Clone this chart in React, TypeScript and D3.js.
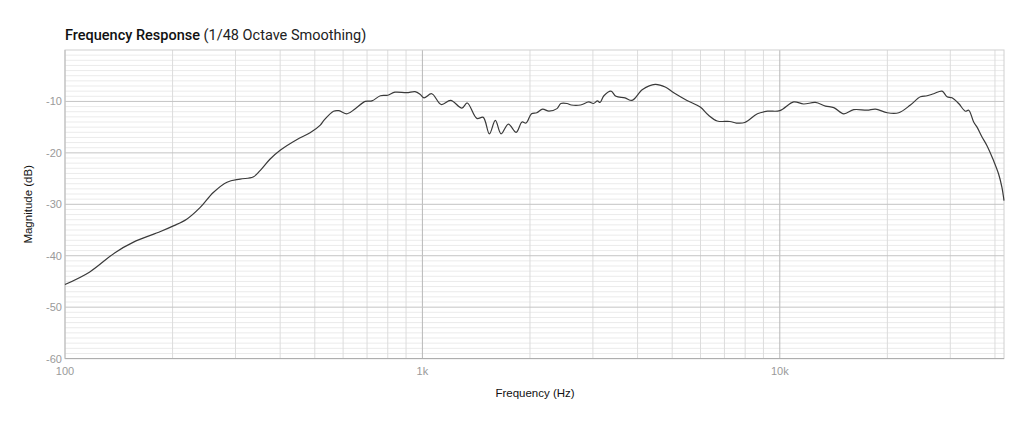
import React, { useEffect, useRef } from "react";
import * as d3 from "d3";

// frequency (Hz) and magnitude (dB)
const freqs = [
  100, 117, 138, 155, 185, 201, 219, 239, 260, 284, 309, 336, 352, 375, 400, 446, 485, 518,
  530, 564, 584, 616, 649, 692, 722, 763, 800, 838, 904, 954, 985, 1010, 1062, 1129, 1200,
  1290, 1335, 1420, 1480, 1540, 1600, 1660, 1740, 1830, 1900, 1950, 2020, 2090, 2170, 2260,
  2380, 2440, 2540, 2610, 2770, 2920, 3010, 3090, 3140, 3220, 3370, 3480, 3690, 3860, 4130,
  4480, 4780, 5050, 5500, 5990, 6320, 6680, 7250, 7560, 7980, 8660, 9240, 10000, 10940,
  11660, 12580, 13420, 14160, 15100, 16100, 17560, 18530, 19980, 21520, 23200, 24740, 25830,
  26960, 28450, 29380, 30330, 31660, 33060, 33770, 34870, 35640, 36800, 38000, 39640, 40950,
  41840, 42400,
];
const magnitudes = [
  -45.6, -43.2, -39.4, -37.4, -35.3, -34.2, -32.9, -30.6, -27.7, -25.7, -25.1, -24.7, -23.4,
  -21.2, -19.5, -17.4, -16.1, -14.6, -13.7, -11.9, -11.8, -12.4, -11.4, -10.0, -9.9, -8.9,
  -8.8, -8.2, -8.3, -8.1, -8.6, -9.3, -8.5, -10.6, -9.8, -11.3, -10.3, -13.3, -13.1, -16.3,
  -13.7, -16.3, -14.4, -16.0, -14.0, -14.2, -12.4, -12.2, -11.5, -11.9, -11.4, -10.4, -10.4,
  -10.7, -10.7, -10.1, -10.4, -9.9, -10.2, -8.9, -8.0, -9.0, -9.3, -9.8, -7.7, -6.7, -7.2,
  -8.3, -9.8, -11.1, -12.7, -13.8, -13.9, -14.2, -14.1, -12.4, -11.9, -11.8, -10.1, -10.5,
  -10.2, -10.9, -11.2, -12.4, -11.6, -11.7, -11.5, -12.2, -12.2, -10.7, -9.1, -8.9, -8.5,
  -8.0, -9.1, -9.3, -10.4, -11.9, -11.7, -14.0, -15.0, -16.9, -18.6, -21.5, -24.1, -26.7,
  -29.3,
];
const yTicks = [-10, -20, -30, -40, -50, -60];
const xTicks = [100, 1000, 10000];
const xTickLabels = ["100", "1k", "10k"];

const W = 1024;
const H = 427;
const margin = { top: 50, right: 20, bottom: 69, left: 65 };

export default function App() {
  const ref = useRef<SVGSVGElement>(null);

  useEffect(() => {
    const svg = d3.select(ref.current);
    svg.selectAll("*").remove();
    const font = "'Helvetica Neue', Helvetica, 'Liberation Sans', Arial, sans-serif";

    const x = d3.scaleLog().domain([100, 42400]).range([margin.left, W - margin.right]);
    const y = d3.scaleLinear().domain([-60, 0]).range([H - margin.bottom + 0.6, margin.top]);

    const g = svg.append("g");

    // minor horizontal grid, every 1 dB
    const minorY = d3.range(-59, 0, 1).filter((v) => v % 10 !== 0);
    g.selectAll("line.hminor")
      .data(minorY)
      .enter()
      .append("line")
      .attr("x1", x.range()[0])
      .attr("x2", x.range()[1])
      .attr("y1", (d) => y(d))
      .attr("y2", (d) => y(d))
      .attr("stroke", "#ebebeb")
      .attr("stroke-width", 1);

    // vertical grid
    const vLines: number[] = [];
    for (let dec = 100; dec <= 10000; dec *= 10) {
      for (let k = 1; k <= 9; k++) {
        const f = dec * k;
        if (f > 100 && f < 42400) vLines.push(f);
      }
    }
    g.selectAll("line.v")
      .data(vLines)
      .enter()
      .append("line")
      .attr("x1", (d) => x(d))
      .attr("x2", (d) => x(d))
      .attr("y1", y(0))
      .attr("y2", y(-60))
      .attr("stroke", (d) => (d === 1000 || d === 10000 ? "#b8b8b8" : "#dcdcdc"))
      .attr("stroke-width", 1);

    // major horizontal grid
    g.selectAll("line.hmajor")
      .data([-10, -20, -30, -40, -50])
      .enter()
      .append("line")
      .attr("x1", x.range()[0])
      .attr("x2", x.range()[1])
      .attr("y1", (d) => y(d))
      .attr("y2", (d) => y(d))
      .attr("stroke", "#c4c4c4")
      .attr("stroke-width", 1);

    // frame
    g.append("rect")
      .attr("x", x.range()[0])
      .attr("y", y(0))
      .attr("width", x.range()[1] - x.range()[0])
      .attr("height", y(-60) - y(0))
      .attr("fill", "none")
      .attr("stroke", "#d0d0d0");
    g.append("line")
      .attr("x1", x.range()[0])
      .attr("x2", x.range()[1])
      .attr("y1", y(-60))
      .attr("y2", y(-60))
      .attr("stroke", "#aaaaaa");
    g.append("line")
      .attr("x1", x.range()[0])
      .attr("x2", x.range()[0])
      .attr("y1", y(0))
      .attr("y2", y(-60))
      .attr("stroke", "#bbbbbb");

    // curve
    const pts = freqs.map((f, i) => [f, magnitudes[i]] as [number, number]);
    const line = d3
      .line<[number, number]>()
      .x((d) => x(d[0]))
      .y((d) => y(d[1]))
      .curve(d3.curveCatmullRom.alpha(0.5));
    g.append("path")
      .datum(pts)
      .attr("d", line)
      .attr("fill", "none")
      .attr("stroke", "#3a3a3a")
      .attr("stroke-width", 1.2);

    // y tick labels
    g.selectAll("text.yt")
      .data(yTicks)
      .enter()
      .append("text")
      .attr("x", margin.left - 3)
      .attr("y", (d) => y(d) + 4)
      .attr("text-anchor", "end")
      .attr("font-family", font)
      .attr("font-size", 11)
      .attr("fill", "#9a9a9a")
      .text((d) => String(d));

    // x tick labels
    g.selectAll("text.xt")
      .data(xTicks)
      .enter()
      .append("text")
      .attr("x", (d) => x(d))
      .attr("y", y(-60) + 16)
      .attr("text-anchor", "middle")
      .attr("font-family", font)
      .attr("font-size", 11)
      .attr("fill", "#9a9a9a")
      .text((d, i) => xTickLabels[i]);

    // axis titles
    svg.append("text")
      .attr("x", 535)
      .attr("y", 397)
      .attr("text-anchor", "middle")
      .attr("font-family", font)
      .attr("font-size", 11.5)
      .attr("fill", "#111")
      .text("Frequency (Hz)");
    svg.append("text")
      .attr("transform", `translate(32,${(y(0) + y(-60)) / 2}) rotate(-90)`)
      .attr("text-anchor", "middle")
      .attr("font-family", font)
      .attr("font-size", 11.5)
      .attr("fill", "#111")
      .text("Magnitude (dB)");

    // chart title
    const title = svg.append("text")
      .attr("x", margin.left)
      .attr("y", 39.5)
      .attr("font-family", "Roboto, 'Liberation Sans', Arial, sans-serif")
      .attr("font-size", 14.5)
      .attr("fill", "#111");
    title.append("tspan").attr("font-weight", 500).text("Frequency Response ");
    title.append("tspan").attr("font-weight", 400).attr("fill", "#222").text("(1/48 Octave Smoothing)");
  }, []);

  return (
    <div style={{ position: "absolute", left: 0, top: 0 }}>
      <svg ref={ref} width={W} height={H} style={{ display: "block", background: "#fff" }} />
    </div>
  );
}
